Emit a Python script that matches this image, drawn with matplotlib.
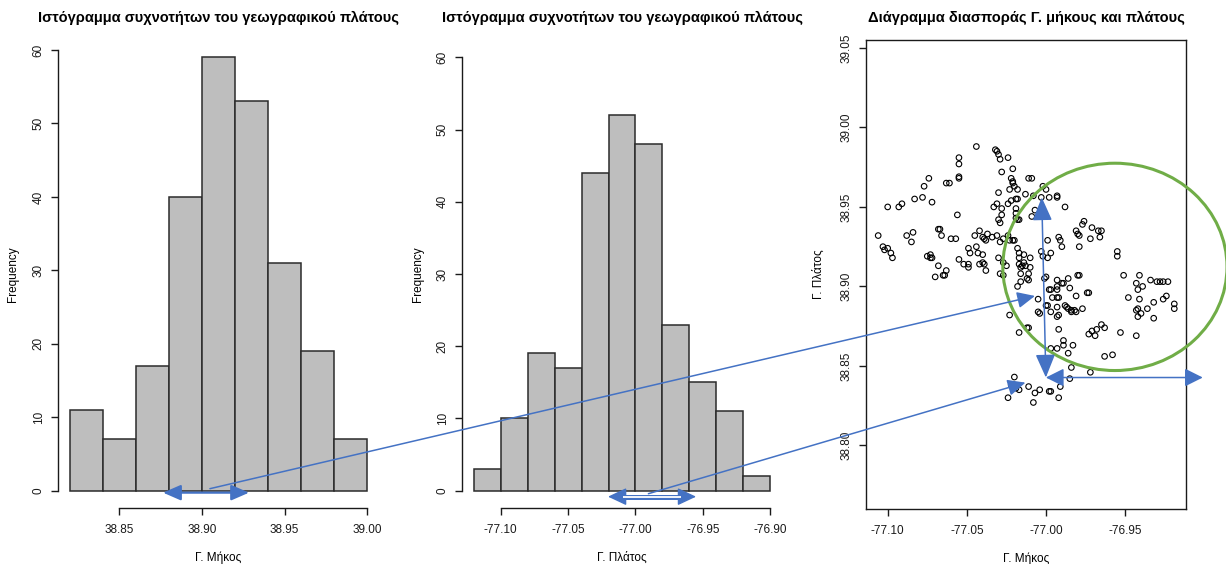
import numpy as np
import matplotlib
matplotlib.use("Agg")
import matplotlib.pyplot as plt
from matplotlib.patches import ConnectionPatch, Ellipse

plt.rcParams['font.family'] = ['Liberation Sans', 'DejaVu Sans']

BLUE = '#4472c4'
GREEN = '#70ad47'

# first histogram (values around 38.9)
h1_edges = [38.82, 38.84, 38.86, 38.88, 38.90, 38.92, 38.94, 38.96, 38.98, 39.00]
h1_counts = [11, 7, 17, 40, 59, 53, 31, 19, 7]
h1_ticks = [38.85, 38.90, 38.95, 39.00]
h1_ticklabels = ['38.85', '38.90', '38.95', '39.00']

# second histogram (values around -77.0)
h2_edges = [-77.12, -77.10, -77.08, -77.06, -77.04, -77.02, -77.00,
            -76.98, -76.96, -76.94, -76.92, -76.90]
h2_counts = [3, 10, 19, 17, 44, 52, 48, 23, 15, 11, 2]
h2_ticks = [-77.10, -77.05, -77.00, -76.95, -76.90]
h2_ticklabels = ['-77.10', '-77.05', '-77.00', '-76.95', '-76.90']

freq_ticks = [0, 10, 20, 30, 40, 50, 60]

# scatter points: longitude / latitude
lon = [
    -77.044, -77.032, -77.031, -77.030, -77.024, -77.029, -77.055, -77.055, -77.028, -77.021,
    -77.055, -77.055, -77.074, -77.077, -77.072, -77.063, -77.061, -77.022, -77.021, -77.021,
    -77.020, -77.018, -77.023, -77.011, -77.009, -77.002, -77.000, -77.030, -77.008, -77.019,
    -77.018, -77.022, -77.024, -77.028, -77.033, -77.031, -77.013, -76.998, -76.993, -76.993,
    -76.988, -77.019, -77.019, -77.019, -77.018, -77.017, -77.009, -77.030, -77.029, -77.028,
    -77.007, -77.100, -77.093, -77.091, -77.083, -77.078, -77.056, -77.106, -77.103, -77.102,
    -77.100, -77.098, -77.097, -77.088, -77.085, -77.084, -77.068, -77.067, -77.066, -77.060,
    -77.057, -77.045, -77.042, -77.040, -77.039, -77.037, -77.038, -77.034, -77.031, -77.029,
    -77.027, -77.024, -77.023, -77.021, -77.020, -77.055, -77.052, -77.049, -77.049, -77.049,
    -77.048, -77.044, -77.043, -77.040, -77.040, -77.039, -77.038, -77.042, -77.075, -77.073,
    -77.073, -77.072, -77.068, -77.063, -77.065, -77.064, -77.070, -77.030, -77.027, -77.025,
    -77.029, -77.027, -77.018, -77.017, -77.014, -77.017, -77.017, -77.014, -77.016, -77.015,
    -77.013, -77.010, -77.011, -77.016, -77.010, -77.011, -77.012, -77.016, -77.018, -77.003,
    -77.002, -76.999, -76.997, -76.999, -77.003, -76.992, -76.991, -76.990, -76.981, -76.980,
    -76.979, -76.976, -76.977, -76.979, -76.971, -76.967, -76.965, -76.966, -76.972, -76.955,
    -76.955, -77.000, -77.001, -76.998, -76.997, -76.993, -76.993, -76.993, -76.990, -76.989,
    -76.986, -76.985, -76.993, -76.992, -76.996, -76.981, -76.980, -76.979, -76.974, -76.973,
    -77.005, -77.005, -77.004, -77.000, -76.999, -76.997, -76.993, -76.992, -76.993, -76.988,
    -76.987, -76.986, -76.984, -76.982, -76.977, -76.981, -76.984, -76.951, -76.941, -76.939,
    -76.943, -76.942, -76.934, -76.930, -76.928, -76.926, -76.923, -76.948, -76.941, -76.942,
    -76.943, -76.942, -76.940, -76.936, -76.932, -76.932, -76.926, -76.924, -76.919, -76.919,
    -77.023, -77.017, -77.012, -77.011, -76.992, -76.989, -76.989, -76.986, -76.983, -76.997,
    -76.993, -76.973, -76.971, -76.969, -76.968, -76.965, -76.963, -76.953, -76.943, -76.963,
    -76.958, -76.984, -76.972, -76.985, -77.020, -77.022, -77.017, -77.011, -77.007, -77.004,
    -76.998, -76.997, -76.991, -76.992, -77.008, -77.024, -77.019,
]
lat = [
    38.988, 38.986, 38.985, 38.983, 38.981, 38.980, 38.981, 38.977, 38.972, 38.974,
    38.969, 38.968, 38.968, 38.963, 38.953, 38.965, 38.965, 38.968, 38.966, 38.965,
    38.963, 38.961, 38.961, 38.968, 38.968, 38.963, 38.961, 38.959, 38.957, 38.955,
    38.955, 38.954, 38.952, 38.949, 38.950, 38.952, 38.958, 38.956, 38.957, 38.956,
    38.950, 38.949, 38.946, 38.943, 38.942, 38.942, 38.944, 38.942, 38.940, 38.945,
    38.948, 38.950, 38.950, 38.952, 38.955, 38.956, 38.945, 38.932, 38.925, 38.923,
    38.924, 38.921, 38.918, 38.932, 38.928, 38.934, 38.936, 38.936, 38.932, 38.930,
    38.930, 38.932, 38.935, 38.931, 38.930, 38.933, 38.929, 38.931, 38.932, 38.928,
    38.930, 38.932, 38.929, 38.929, 38.929, 38.917, 38.914, 38.912, 38.914, 38.924,
    38.921, 38.925, 38.921, 38.920, 38.915, 38.914, 38.910, 38.914, 38.919, 38.920,
    38.918, 38.918, 38.913, 38.910, 38.907, 38.907, 38.906, 38.918, 38.915, 38.913,
    38.908, 38.907, 38.924, 38.921, 38.920, 38.918, 38.914, 38.915, 38.912, 38.913,
    38.913, 38.912, 38.908, 38.908, 38.918, 38.904, 38.905, 38.903, 38.900, 38.922,
    38.919, 38.918, 38.921, 38.929, 38.956, 38.931, 38.929, 38.925, 38.935, 38.933,
    38.932, 38.941, 38.939, 38.925, 38.937, 38.935, 38.935, 38.931, 38.930, 38.922,
    38.919, 38.906, 38.905, 38.898, 38.898, 38.904, 38.900, 38.898, 38.902, 38.902,
    38.905, 38.899, 38.893, 38.893, 38.893, 38.894, 38.907, 38.907, 38.896, 38.896,
    38.892, 38.884, 38.883, 38.888, 38.888, 38.884, 38.887, 38.882, 38.881, 38.888,
    38.887, 38.886, 38.885, 38.885, 38.886, 38.884, 38.884, 38.907, 38.907, 38.900,
    38.902, 38.898, 38.904, 38.903, 38.903, 38.903, 38.903, 38.893, 38.892, 38.886,
    38.885, 38.881, 38.883, 38.886, 38.890, 38.880, 38.892, 38.894, 38.889, 38.886,
    38.882, 38.871, 38.874, 38.874, 38.873, 38.866, 38.863, 38.858, 38.863, 38.861,
    38.861, 38.870, 38.872, 38.869, 38.873, 38.876, 38.874, 38.871, 38.869, 38.856,
    38.857, 38.849, 38.846, 38.842, 38.843, 38.838, 38.835, 38.837, 38.833, 38.835,
    38.834, 38.834, 38.837, 38.830, 38.827, 38.830, 38.836,
]

W, H = 1226, 564


def px_box(left, top, right, bottom):
    return [left / W, 1 - bottom / H, (right - left) / W, (bottom - top) / H]


def pad_range(lo, hi):
    d = 0.04 * (hi - lo)
    return lo - d, hi + d


def style_axes(ax):
    ax.tick_params(direction='out', length=5, width=1.0, colors='#1a1a1a',
                   labelsize=8.5)
    ax.tick_params(axis='x', pad=6.5)
    ax.tick_params(axis='y', pad=4.5, labelrotation=90)
    for lab in ax.get_yticklabels():
        lab.set_va('center')
    for sp in ax.spines.values():
        sp.set_linewidth(1.0)
        sp.set_color('#1a1a1a')


def histogram(ax, edges, counts, ticks, ticklabels, ylim, xlabel):
    edges = np.array(edges)
    ax.bar(edges[:-1], counts, width=np.diff(edges), align='edge',
           color='#bebebe', edgecolor='#2b2b2b', linewidth=1.1)
    ax.set_xlim(*pad_range(edges[0], edges[-1]))
    ax.set_ylim(*ylim)
    ax.spines['top'].set_visible(False)
    ax.spines['right'].set_visible(False)
    ax.spines['left'].set_bounds(freq_ticks[0], freq_ticks[-1])
    ax.spines['bottom'].set_bounds(ticks[0], ticks[-1])
    ax.set_xticks(ticks)
    ax.set_xticklabels(ticklabels)
    ax.set_yticks(freq_ticks)
    ax.set_yticklabels([str(v) for v in freq_ticks])
    style_axes(ax)
    ax.set_title('Ιστόγραμμα συχνοτήτων του γεωγραφικού πλάτους',
                 fontsize=10.5, fontweight='bold', pad=13)
    ax.set_ylabel('Frequency', fontsize=8.5)
    ax.yaxis.set_label_coords(-0.12, 0.5)
    ax.set_xlabel(xlabel, fontsize=8.5)
    ax.xaxis.set_label_coords(0.5, -0.094)


fig = plt.figure(figsize=(W / 100, H / 100), dpi=100)
fig.patch.set_facecolor('white')

ax1 = fig.add_axes(px_box(58, 40, 379, 508))
histogram(ax1, h1_edges, h1_counts, h1_ticks, h1_ticklabels,
          (-2.36, 61.36), 'Γ. Μήκος')

ax2 = fig.add_axes(px_box(462, 40, 782, 508))
histogram(ax2, h2_edges, h2_counts, h2_ticks, h2_ticklabels,
          (-2.4, 62.4), 'Γ. Πλάτος')

# scatter of longitude vs latitude
ax3 = fig.add_axes(px_box(866, 40, 1186, 509))
ax3.scatter(lon, lat, s=16, facecolors='none', edgecolors='black',
            linewidths=0.8, zorder=3)
ax3.set_xlim(-77.1137, -76.9116)
ax3.set_ylim(38.760, 39.055)
ax3.set_xticks([-77.10, -77.05, -77.00, -76.95])
ax3.set_xticklabels(['-77.10', '-77.05', '-77.00', '-76.95'])
ax3.set_yticks([38.80, 38.85, 38.90, 38.95, 39.00, 39.05])
ax3.set_yticklabels(['38.80', '38.85', '38.90', '38.95', '39.00', '39.05'])
style_axes(ax3)
ax3.set_title('Διάγραμμα διασποράς Γ. μήκους και πλάτους',
              fontsize=10.5, fontweight='bold', pad=13)
ax3.set_xlabel('Γ. Μήκος', fontsize=8.5)
ax3.xaxis.set_label_coords(0.5, -0.092)
ax3.set_ylabel('Γ. Πλάτος', fontsize=8.5)
ax3.yaxis.set_label_coords(-0.128, 0.5)

# highlighted region
ax3.add_patch(Ellipse((-76.9565, 38.9123), width=0.1416, height=0.1304,
                      fill=False, edgecolor=GREEN, linewidth=2.2,
                      clip_on=False, zorder=4))


def arrow(ax, start, end, style, lw, ms=10, hl=1.1, hw=0.5):
    ax.annotate('', xy=end, xytext=start, annotation_clip=False,
                arrowprops=dict(arrowstyle=f'{style},head_length={hl},head_width={hw}',
                                color=BLUE, lw=lw, shrinkA=0, shrinkB=0,
                                mutation_scale=ms),
                zorder=6)


# range markers under the histograms
arrow(ax1, (38.8764, -0.27), (38.9285, -0.27), '<|-|>', 1.6, hl=1.08, hw=0.47)
arrow(ax2, (-77.0204, -0.83), (-76.955, -0.83), '<|-|>', 1.0, hl=1.15, hw=0.54)
# hollow shaft between the two heads
ax2.plot([-77.0095, -76.9659], [-0.83, -0.83], color=BLUE, lw=3.6,
         solid_capstyle='butt', clip_on=False, zorder=6)
ax2.plot([-77.0092, -76.9662], [-0.83, -0.83], color='white', lw=1.3,
         solid_capstyle='butt', clip_on=False, zorder=7)

# crosshair in the scatter
arrow(ax3, (-77.0001, 38.8427), (-77.0027, 38.956), '<|-|>', 1.1, hl=1.44, hw=0.61)
arrow(ax3, (-77.0001, 38.8427), (-76.901, 38.8427), '<|-|>', 1.1, hl=1.1, hw=0.55)

# links from the histograms to the scatter
for axA, xyA, xyB in [(ax1, (38.9048, 0.27), (-77.007, 38.894)),
                      (ax2, (-76.9904, -0.42), (-77.013, 38.8395))]:
    con = ConnectionPatch(xyA=xyA, coordsA=axA.transData,
                          xyB=xyB, coordsB=ax3.transData,
                          arrowstyle='-|>,head_length=1.08,head_width=0.5',
                          mutation_scale=10, color=BLUE, lw=1.1,
                          shrinkA=0, shrinkB=0, zorder=10)
    fig.add_artist(con)

fig.savefig('out.png', dpi=100, facecolor='white')
